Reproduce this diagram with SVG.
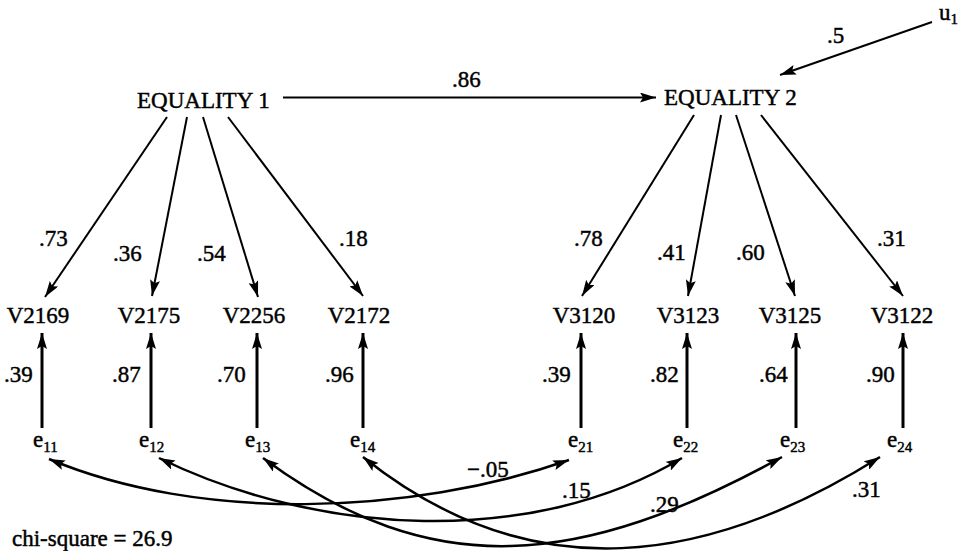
<svg xmlns="http://www.w3.org/2000/svg" width="968" height="551" viewBox="0 0 968 551">
<defs>
<style>
text{font-family:"Liberation Serif","Times New Roman",serif;font-size:23px;fill:#000;stroke:#000;stroke-width:0.45}
.sub{font-size:15px}
.ln{fill:none;stroke:#000;stroke-width:2}
.v{fill:none;stroke:#000;stroke-width:3}
.cv{fill:none;stroke:#000;stroke-width:2.5}
</style>
<marker id="ah" viewBox="0 0 16 10" refX="16" refY="5" markerWidth="16" markerHeight="10" markerUnits="userSpaceOnUse" orient="auto-start-reverse">
<path d="M0,0 L16,5 L0,10 L3,5 z" fill="#000"/>
</marker>
</defs>
<rect width="968" height="551" fill="#fff"/>
<g id="connectors">
<path class="ln" d="M283,97.5 L656,97.5" marker-end="url(#ah)"/>
<path class="ln" d="M932,22 L780,75" marker-end="url(#ah)"/>
<path class="ln" d="M167,117 L45,297" marker-end="url(#ah)"/>
<path class="ln" d="M187,117 L152,296" marker-end="url(#ah)"/>
<path class="ln" d="M203,117 L258,297" marker-end="url(#ah)"/>
<path class="ln" d="M228,117 L363,296" marker-end="url(#ah)"/>
<path class="ln" d="M694,115 L582,296" marker-end="url(#ah)"/>
<path class="ln" d="M721,115 L688,296" marker-end="url(#ah)"/>
<path class="ln" d="M736,115 L795,296" marker-end="url(#ah)"/>
<path class="ln" d="M761,115 L903,296" marker-end="url(#ah)"/>
<path class="v" d="M42,428 L42,333" marker-end="url(#ah)"/>
<path class="v" d="M151,428 L151,333" marker-end="url(#ah)"/>
<path class="v" d="M257,428 L257,333" marker-end="url(#ah)"/>
<path class="v" d="M363,428 L363,333" marker-end="url(#ah)"/>
<path class="v" d="M581,428 L581,333" marker-end="url(#ah)"/>
<path class="v" d="M687,428 L687,333" marker-end="url(#ah)"/>
<path class="v" d="M796,428 L796,333" marker-end="url(#ah)"/>
<path class="v" d="M903,428 L903,333" marker-end="url(#ah)"/>
<path class="cv" d="M49,459 C199,522 409,516 569,460" marker-start="url(#ah)" marker-end="url(#ah)"/>
<path class="cv" d="M159,458 C319,536 532,548 682,458" marker-start="url(#ah)" marker-end="url(#ah)"/>
<path class="cv" d="M263,458 C433,584 582,567 782,457" marker-start="url(#ah)" marker-end="url(#ah)"/>
<path class="cv" d="M363,457 C533,593 710,564 880,457" marker-start="url(#ah)" marker-end="url(#ah)"/>
<text x="452" y="87">.86</text>
<text x="827" y="43">.5</text>
<text x="39" y="246">.73</text>
<text x="113" y="261">.36</text>
<text x="197" y="261">.54</text>
<text x="339" y="246">.18</text>
<text x="574" y="246">.78</text>
<text x="657" y="260">.41</text>
<text x="736" y="260">.60</text>
<text x="877" y="246">.31</text>
<text x="4" y="382">.39</text>
<text x="112" y="382">.87</text>
<text x="217" y="382">.70</text>
<text x="325" y="382">.96</text>
<text x="542" y="382">.39</text>
<text x="650" y="382">.82</text>
<text x="759" y="382">.64</text>
<text x="866" y="382">.90</text>
<text x="467" y="477">−.05</text>
<text x="562" y="498">.15</text>
<text x="650" y="512">.29</text>
<text x="852" y="497">.31</text>
</g>
<g id="eq1"><text x="137" y="108">EQUALITY 1</text></g>
<g id="eq2"><text x="664" y="105">EQUALITY 2</text></g>
<g id="u1"><text x="939" y="20">u<tspan class="sub" dy="4">1</tspan></text></g>
<g id="v2169"><text x="38" y="323" text-anchor="middle">V2169</text></g>
<g id="v2175"><text x="149" y="323" text-anchor="middle">V2175</text></g>
<g id="v2256"><text x="254" y="323" text-anchor="middle">V2256</text></g>
<g id="v2172"><text x="359" y="323" text-anchor="middle">V2172</text></g>
<g id="v3120"><text x="584" y="323" text-anchor="middle">V3120</text></g>
<g id="v3123"><text x="688" y="323" text-anchor="middle">V3123</text></g>
<g id="v3125"><text x="790" y="323" text-anchor="middle">V3125</text></g>
<g id="v3122"><text x="902" y="323" text-anchor="middle">V3122</text></g>
<g id="e11"><text x="33" y="447">e<tspan class="sub" dy="5">11</tspan></text></g>
<g id="e12"><text x="139" y="447">e<tspan class="sub" dy="5">12</tspan></text></g>
<g id="e13"><text x="245" y="447">e<tspan class="sub" dy="5">13</tspan></text></g>
<g id="e14"><text x="350" y="447">e<tspan class="sub" dy="5">14</tspan></text></g>
<g id="e21"><text x="568" y="447">e<tspan class="sub" dy="5">21</tspan></text></g>
<g id="e22"><text x="673" y="447">e<tspan class="sub" dy="5">22</tspan></text></g>
<g id="e23"><text x="780" y="447">e<tspan class="sub" dy="5">23</tspan></text></g>
<g id="e24"><text x="887" y="447">e<tspan class="sub" dy="5">24</tspan></text></g>
<g id="chi"><text x="12" y="546">chi-square = 26.9</text></g>
</svg>
